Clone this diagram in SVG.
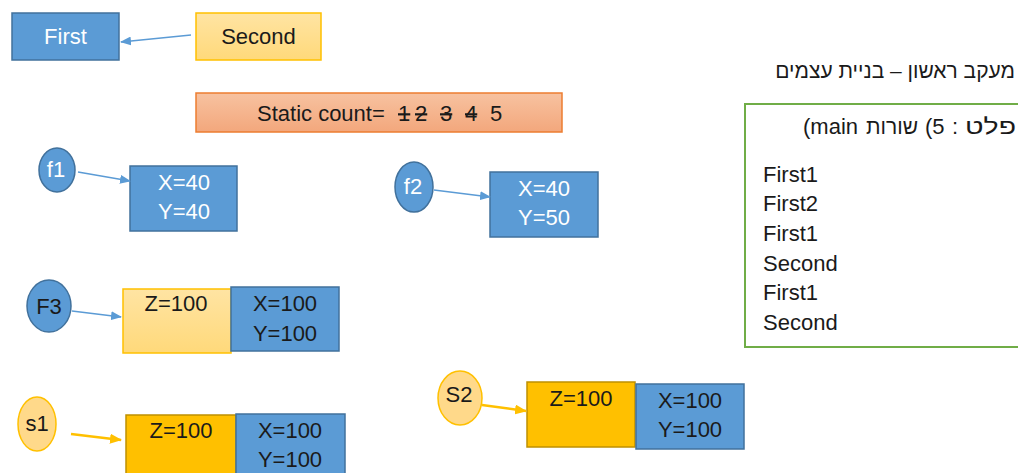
<svg xmlns="http://www.w3.org/2000/svg" width="1018" height="473" viewBox="0 0 1018 473">
<defs>
<style>
text{font-family:"Liberation Sans","DejaVu Sans",sans-serif;font-size:22px;}
.blue{fill:#5b9bd5;stroke:#41719c;stroke-width:1.5;}
.lyel{fill:url(#ly);stroke:#ffc000;stroke-width:1.5;}
.oyel{fill:#ffc000;stroke:#bf9000;stroke-width:1.5;}
.wt{fill:#ffffff;}
.bk{fill:#1a1a1a;}
.c{text-anchor:middle;}
.e{text-anchor:end;}
.ab{stroke:#5b9bd5;stroke-width:1.5;fill:none;marker-end:url(#mb);}
.ao{stroke:#ffc000;stroke-width:2.5;fill:none;marker-end:url(#mo);}
</style>
<linearGradient id="ly" x1="0" y1="0" x2="0" y2="1"><stop offset="0" stop-color="#ffe4a3"/><stop offset="1" stop-color="#ffd97a"/></linearGradient>
<linearGradient id="sal" x1="0" y1="0" x2="0" y2="1"><stop offset="0" stop-color="#f7c2a0"/><stop offset="1" stop-color="#f3a77c"/></linearGradient>
<marker id="mb" markerWidth="11" markerHeight="9" refX="10" refY="4.5" orient="auto" markerUnits="userSpaceOnUse"><path d="M0,0 L11,4.5 L0,9 z" fill="#5b9bd5"/></marker>
<marker id="mo" markerWidth="12" markerHeight="10" refX="11" refY="5" orient="auto" markerUnits="userSpaceOnUse"><path d="M0,0 L12,5 L0,10 z" fill="#ffc000"/></marker>
</defs>
<rect width="1018" height="473" fill="#ffffff"/>

<g id="first"><rect class="blue" x="12" y="13" width="107" height="47"/><text class="wt c" x="65.5" y="44">First</text></g>
<g id="second"><rect class="lyel" x="196" y="13" width="125" height="47"/><text class="bk c" x="258.5" y="44">Second</text></g>

<g id="static">
<rect x="196" y="93" width="366" height="39" fill="url(#sal)" stroke="#ed7d31" stroke-width="1.5"/>
<text class="bk" x="257" y="121">Static count=</text>
<text class="bk" x="398" y="121" text-decoration="line-through">1</text>
<text class="bk" x="415" y="121" text-decoration="line-through">2</text>
<text class="bk" x="440" y="121" text-decoration="line-through">3</text>
<text class="bk" x="465" y="121" text-decoration="line-through">4</text>
<text class="bk" x="490" y="121">5</text>
</g>

<g id="title"><text class="bk" x="1015" y="78" direction="rtl" text-anchor="start" style="font-size:21px">מעקב ראשון – בניית עצמים</text></g>

<g id="output">
<rect x="745" y="104" width="290" height="243" fill="#ffffff" stroke="#70ad47" stroke-width="2"/>
<text class="bk" x="803" y="134">(main</text>
<text class="bk" x="866" y="134" textLength="52" lengthAdjust="spacingAndGlyphs">שורות</text>
<text class="bk" x="925" y="134">(5</text>
<text class="bk" x="952" y="134">:</text>
<text class="bk" x="965" y="134" textLength="51" lengthAdjust="spacingAndGlyphs">פלט</text>
<text class="bk" x="763" y="182">First1</text>
<text class="bk" x="763" y="211">First2</text>
<text class="bk" x="763" y="241">First1</text>
<text class="bk" x="763" y="271">Second</text>
<text class="bk" x="763" y="300">First1</text>
<text class="bk" x="763" y="330">Second</text>
</g>

<g id="f1"><ellipse class="blue" cx="57" cy="170" rx="18" ry="22"/><text class="wt c" x="56" y="177">f1</text></g>
<g id="f1obj"><rect class="blue" x="130" y="166" width="107" height="65"/><text class="wt c" x="184" y="190">X=40</text><text class="wt c" x="184" y="219">Y=40</text></g>

<g id="f2"><ellipse class="blue" cx="414" cy="187" rx="19" ry="25"/><text class="wt c" x="413" y="194">f2</text></g>
<g id="f2obj"><rect class="blue" x="490" y="172" width="108" height="65"/><text class="wt c" x="544" y="196">X=40</text><text class="wt c" x="544" y="225">Y=50</text></g>

<g id="F3"><ellipse class="blue" cx="49" cy="306" rx="22" ry="26"/><text class="bk c" x="49" y="314">F3</text></g>
<g id="F3obj">
<rect class="lyel" x="123" y="289" width="108" height="64"/><text class="bk c" x="176" y="311">Z=100</text>
<rect class="blue" x="231" y="287" width="108" height="64"/><text class="bk c" x="285" y="311">X=100</text><text class="bk c" x="285" y="341">Y=100</text>
</g>

<g id="s1"><ellipse cx="37" cy="424" rx="19" ry="27" fill="#ffd98a" stroke="#ffc000" stroke-width="1.5"/><text class="bk c" x="37" y="431">s1</text></g>
<g id="s1obj">
<rect class="oyel" x="126" y="415" width="110" height="70"/><text class="bk c" x="181" y="438">Z=100</text>
<rect class="blue" x="236" y="414" width="109" height="70"/><text class="bk c" x="290" y="438">X=100</text><text class="bk c" x="290" y="467">Y=100</text>
</g>

<g id="S2"><ellipse cx="460" cy="398" rx="22" ry="27" fill="#ffd98a" stroke="#ffc000" stroke-width="1.5"/><text class="bk c" x="459" y="402">S2</text></g>
<g id="S2obj">
<rect class="oyel" x="527" y="382" width="108" height="65"/><text class="bk c" x="581" y="406">Z=100</text>
<rect class="blue" x="636" y="384" width="108" height="65"/><text class="bk c" x="690" y="408">X=100</text><text class="bk c" x="690" y="437">Y=100</text>
</g>

<g id="connectors">
<line class="ab" x1="191" y1="35" x2="121" y2="42"/>
<line class="ab" x1="78" y1="172" x2="130" y2="181"/>
<line class="ab" x1="434" y1="190" x2="490" y2="197"/>
<line class="ab" x1="72" y1="311" x2="121" y2="317"/>
<line class="ao" x1="71" y1="434" x2="121" y2="440"/>
<line class="ao" x1="482" y1="405" x2="526" y2="411"/>
</g>
</svg>
